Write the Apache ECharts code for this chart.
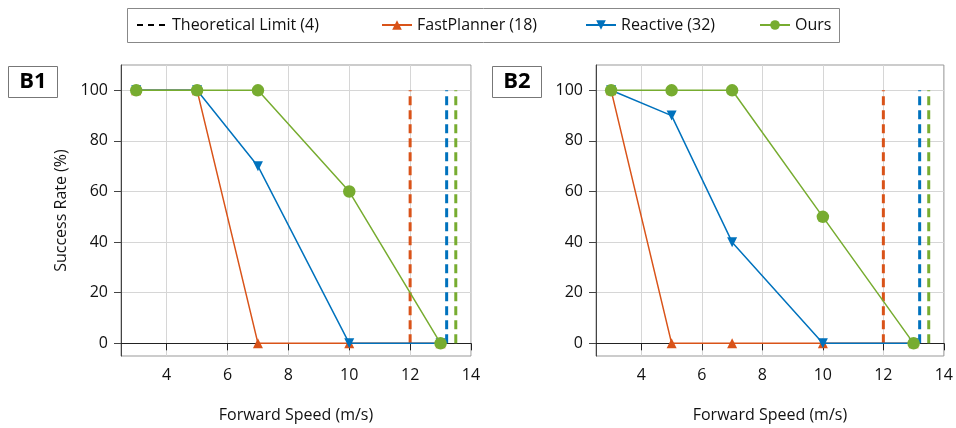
<!DOCTYPE html>
<html><head><meta charset="utf-8">
<script src="https://cdn.jsdelivr.net/npm/echarts@6/dist/echarts.min.js"></script>
<style>html,body{margin:0;padding:0;background:#fff}#c{width:956px;height:428px}</style>
</head><body><div id="c"></div>
<script>
// ---- data ----
const speeds = [3, 5, 7, 10, 13];
const b1FastPlanner = [100, 100, 0, 0, 0];
const b1Reactive = [100, 100, 70, 0, 0];
const b1Ours = [100, 100, 100, 60, 0];
const b2FastPlanner = [100, 0, 0, 0, 0];
const b2Reactive = [100, 90, 40, 0, 0];
const b2Ours = [100, 100, 100, 50, 0];
const limitSpeeds = [12, 13.2, 13.5]; // FastPlanner, Reactive, Ours theoretical limits
const limitRange = [0, 100];
const xTicks = [4, 6, 8, 10, 12, 14];
const yTicks = [0, 20, 40, 60, 80, 100];
const panelLabels = ['B1', 'B2'];
const names = ['Theoretical Limit (4)', 'FastPlanner (18)', 'Reactive (32)', 'Ours'];

// ---- style ----
const FONT = 'Open Sans';
const ORANGE = '#D95319', BLUE = '#0072BD', GREEN = '#77AC30';
const colors = [ORANGE, BLUE, GREEN];
const grids = [
  { left: 121, top: 65, width: 350, height: 291 },
  { left: 596, top: 65, width: 350, height: 291 }
];
const zip = (xs, ys) => xs.map((x, i) => [x, ys[i]]);

const xAxes = grids.map((g, i) => ({
  type: 'value', gridIndex: i, min: 2.5, max: 14,
  name: 'Forward Speed (m/s)', nameLocation: 'middle', nameGap: 51,
  nameTextStyle: { fontFamily: FONT, fontSize: 16, color: '#111' },
  axisLine: { show: true, lineStyle: { color: '#222', width: 1 } },
  axisTick: { show: true, customValues: xTicks, length: 7, lineStyle: { color: '#222' } },
  axisLabel: { customValues: xTicks, fontFamily: FONT, fontSize: 16, color: '#111', margin: 11 },
  splitLine: { show: true, lineStyle: { color: '#d6d6d6', width: 1 } }
}));
const yAxes = grids.map((g, i) => ({
  type: 'value', gridIndex: i, min: -5, max: 110,
  name: i === 0 ? 'Success Rate (%)' : '', nameLocation: 'middle', nameGap: 52,
  nameTextStyle: { fontFamily: FONT, fontSize: 16, color: '#111' },
  axisLine: { show: true, lineStyle: { color: '#444', width: 1 } },
  axisTick: { show: true, customValues: yTicks, length: 7, lineStyle: { color: '#444' } },
  axisLabel: { customValues: yTicks, fontFamily: FONT, fontSize: 16, color: '#111', margin: 13 },
  splitLine: { show: true, lineStyle: { color: '#d6d6d6', width: 1 } }
}));

const panelData = [
  [b1FastPlanner, b1Reactive, b1Ours],
  [b2FastPlanner, b2Reactive, b2Ours]
];
const series = [{
  name: names[0], type: 'line', data: [], symbol: 'none',
  lineStyle: { color: '#000', width: 3, type: [6, 5] }, itemStyle: { color: '#000' }
}];
panelData.forEach((vals, p) => {
  limitSpeeds.forEach((sx, k) => {
    series.push({
      name: 'limit' + p + k, type: 'line', xAxisIndex: p, yAxisIndex: p,
      data: limitRange.map(v => [sx, v]), symbol: 'none', silent: true, z: 1,
      lineStyle: { color: colors[k], width: 3, type: [9, 5] }
    });
  });
  const symbols = ['triangle', 'triangle', 'circle'];
  const rots = [0, 180, 0];
  const sizes = [10, 10, 12.5];
  vals.forEach((v, k) => {
    series.push({
      name: names[k + 1], type: 'line', xAxisIndex: p, yAxisIndex: p,
      data: zip(speeds, v), symbol: symbols[k], symbolRotate: rots[k], symbolSize: sizes[k],
      z: 2 + k,
      lineStyle: { color: colors[k], width: 1.5 }, itemStyle: { color: colors[k] }
    });
  });
});

const legendPos = [131, 376, 580, 754];
const legends = names.map((n, i) => ({
  data: [n], left: legendPos[i], top: 12, itemWidth: 30, itemHeight: 12, itemGap: 0,
  selectedMode: false,
  itemStyle: i === 0 ? { opacity: 0 } : {},
  textStyle: { fontFamily: FONT, fontSize: 16, color: '#111' }
}));

const graphic = [
  { type: 'rect', shape: { x: 127.5, y: 8.5, width: 712, height: 34 },
    style: { fill: 'none', stroke: '#888', lineWidth: 1 }, silent: true },
  ...panelLabels.map((t, i) => ({
    type: 'group', left: i === 0 ? 8 : 492, top: 66, children: [
      { type: 'rect', shape: { x: 0.5, y: 0.5, width: 49, height: 31 },
        style: { fill: '#fff', stroke: '#777', lineWidth: 1 } },
      { type: 'text', x: 25, y: 16, style: { text: t, fontFamily: FONT, fontWeight: 'bold',
        fontSize: 22, fill: '#000', align: 'center', verticalAlign: 'middle' } }
    ]
  }))
];

const chart = echarts.init(document.getElementById('c'), null, { renderer: 'canvas' });
chart.setOption({
  animation: false,
  backgroundColor: '#fff',
  grid: grids.map(g => Object.assign({ show: true, borderColor: '#999', borderWidth: 1, backgroundColor: 'transparent' }, g)),
  xAxis: xAxes, yAxis: yAxes,
  legend: legends,
  graphic: graphic,
  series: series
});
</script></body></html>
